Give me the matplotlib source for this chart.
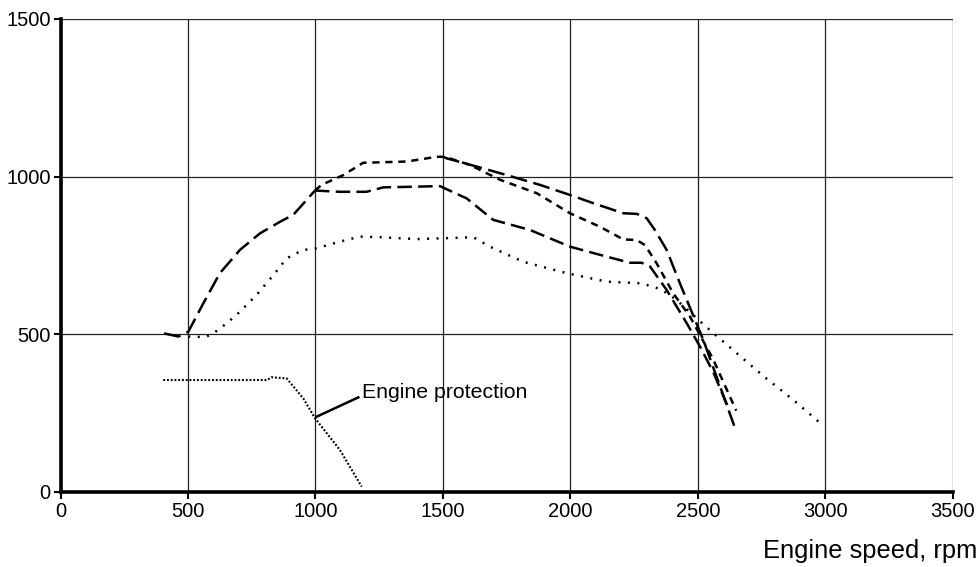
import matplotlib.pyplot as plt

# --- data ---
# shared low-speed part (all full-load curves coincide)
rpm_common = [406, 462, 501, 560, 625, 704, 782, 861, 913, 965, 998]
val_common = [503, 493, 508, 598, 694, 768, 820, 857, 879, 926, 956]

# upper short-dash curve
rpm_c = [998, 1024, 1109, 1187, 1358, 1475, 1508, 1606, 1724, 1869, 1998, 2116, 2207, 2260, 2292, 2338, 2403, 2469, 2560, 2650]
val_c = [956, 974, 1005, 1044, 1048, 1063, 1063, 1037, 990, 947, 884, 841, 801, 799, 783, 725, 630, 556, 420, 258]

# middle long-dash curve
rpm_b = [998, 1096, 1200, 1266, 1488, 1593, 1697, 1841, 1998, 2116, 2233, 2279, 2312, 2377, 2456, 2508, 2560, 2615]
val_b = [956, 952, 952, 966, 970, 931, 863, 831, 778, 752, 727, 727, 715, 641, 535, 461, 380, 275]

# top long-dash curve above 1500 rpm
rpm_a = [1500, 1515, 1632, 1750, 1880, 1998, 2089, 2207, 2260, 2299, 2331, 2377, 2429, 2521, 2580, 2642]
val_a = [1063, 1058, 1032, 1005, 974, 942, 916, 884, 882, 868, 831, 768, 662, 482, 350, 210]

# dotted curve
rpm_d = [501, 567, 599, 652, 704, 769, 835, 887, 952, 991, 1096, 1175, 1253, 1397, 1515, 1619, 1684, 1815, 1985, 2142, 2273, 2325, 2358, 2416, 2495, 2554, 2638, 2756, 2874, 2989]
val_d = [493, 491, 503, 535, 572, 625, 688, 741, 768, 770, 794, 810, 808, 802, 805, 808, 778, 730, 694, 667, 662, 651, 641, 609, 551, 508, 450, 368, 292, 212]

# engine protection curve
rpm_e = [403, 809, 828, 887, 952, 998, 1096, 1181]
val_e = [355, 355, 364, 360, 297, 234, 133, 17]

x_ticks = [0, 500, 1000, 1500, 2000, 2500, 3000, 3500]
y_ticks = [0, 500, 1000, 1500]

plt.rcParams['font.family'] = ['Liberation Sans', 'DejaVu Sans']

fig = plt.figure(figsize=(9.79, 5.67), dpi=100)
ax = fig.add_axes([0.0618, 0.1323, 0.9116, 0.8342])

ax.set_xlim(0, 3500)
ax.set_ylim(0, 1500)
ax.set_xticks(x_ticks)
ax.set_yticks(y_ticks)
ax.grid(True, color='#222222', linewidth=0.9)
ax.set_axisbelow(True)

for s in ['top', 'right']:
    ax.spines[s].set_visible(False)
for s in ['left', 'bottom']:
    ax.spines[s].set_linewidth(2.6)
    ax.spines[s].set_zorder(5)

ax.tick_params(axis='both', direction='out', length=5, width=1.5, labelsize=14.5, pad=2)

lw = 1.8
ax.plot(rpm_common, val_common, color='black', lw=lw, dashes=(6.8, 2.6))
ax.plot(rpm_a, val_a, color='black', lw=lw, dashes=(6.8, 2.6))
ax.plot(rpm_b, val_b, color='black', lw=lw, dashes=(5.8, 2.5))
ax.plot(rpm_c, val_c, color='black', lw=lw, dashes=(2.9, 2.3))
ax.plot(rpm_d, val_d, color='black', lw=lw, dashes=(0.8, 3.0))
ax.plot(rpm_e, val_e, color='black', lw=1.5, dashes=(0.9, 0.9))

# annotation
ax.plot([1005, 1168], [239, 300], color='black', lw=1.8)
ax.text(1183, 315, "Engine protection", fontsize=15.3, ha='left', va='center')

fig.text(0.998, 0.028, "Engine speed, rpm", fontsize=18.4, ha='right', va='center')

plt.savefig('out.png', dpi=100)
